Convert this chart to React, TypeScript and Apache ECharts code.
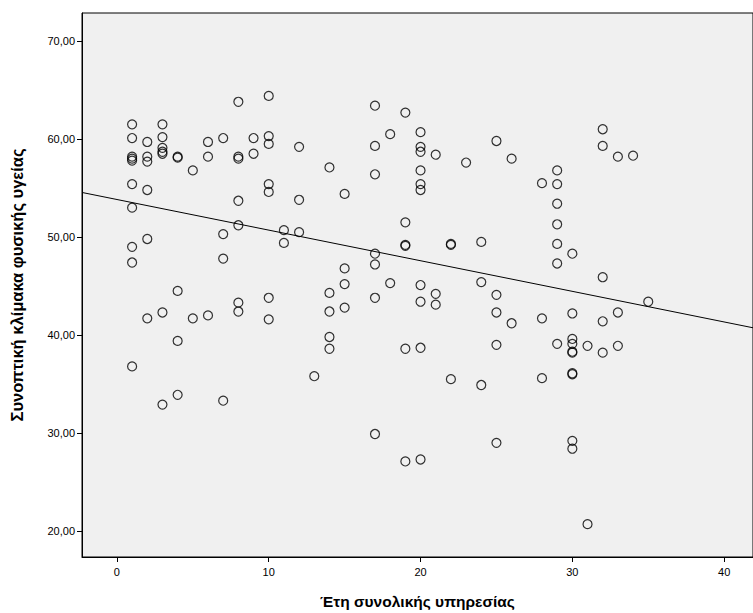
import React, { useEffect, useRef } from "react";
import * as echarts from "echarts";

// Years of total service (x) and physical health summary score (y), one entry per respondent
const serviceYears = [
  1, 1, 1, 1, 1, 1, 1, 1, 1, 1,
  2, 2, 2, 2, 2, 2,
  3, 3, 3, 3, 3, 3, 3,
  4, 4, 4, 4, 4,
  5, 5,
  6, 6, 6,
  7, 7, 7, 7,
  8, 8, 8, 8, 8, 8, 8,
  9, 9,
  10, 10, 10, 10, 10, 10, 10,
  11, 11,
  12, 12, 12,
  13,
  14, 14, 14, 14, 14,
  15, 15, 15, 15,
  17, 17, 17, 17, 17, 17, 17,
  18, 18,
  19, 19, 19, 19, 19, 19,
  20, 20, 20, 20, 20, 20, 20, 20, 20, 20,
  21, 21, 21,
  22, 22, 22,
  23,
  24, 24, 24,
  25, 25, 25, 25, 25,
  26, 26,
  28, 28, 28,
  29, 29, 29, 29, 29, 29, 29,
  30, 30, 30, 30, 30, 30, 30, 30, 30, 30,
  31, 31,
  32, 32, 32, 32, 32,
  33, 33, 33,
  34,
  35,
];

const healthScores = [
  61.5, 60.1, 58.2, 58.0, 57.8, 55.4, 53.0, 49.0, 47.4, 36.8,
  59.7, 58.2, 57.7, 54.8, 49.8, 41.7,
  61.5, 60.2, 59.1, 58.7, 58.5, 42.3, 32.9,
  58.2, 58.1, 44.5, 39.4, 33.9,
  56.8, 41.7,
  59.7, 58.2, 42.0,
  60.1, 50.3, 47.8, 33.3,
  63.8, 58.2, 58.0, 53.7, 51.2, 43.3, 42.4,
  60.1, 58.5,
  64.4, 60.3, 59.5, 55.4, 54.6, 43.8, 41.6,
  50.7, 49.4,
  59.2, 53.8, 50.5,
  35.8,
  57.1, 44.3, 42.4, 39.8, 38.6,
  54.4, 46.8, 45.2, 42.8,
  63.4, 59.3, 56.4, 48.3, 47.2, 43.8, 29.9,
  60.5, 45.3,
  62.7, 51.5, 49.2, 49.1, 38.6, 27.1,
  60.7, 59.2, 58.7, 56.8, 55.4, 54.8, 45.1, 43.4, 38.7, 27.3,
  58.4, 44.2, 43.1,
  49.3, 49.2, 35.5,
  57.6,
  49.5, 45.4, 34.9,
  59.8, 44.1, 42.3, 39.0, 29.0,
  58.0, 41.2,
  55.5, 41.7, 35.6,
  56.8, 55.4, 53.4, 51.3, 49.3, 47.3, 39.1,
  48.3, 42.2, 39.6, 39.1, 38.3, 38.2, 36.1, 36.0, 29.2, 28.4,
  38.9, 20.7,
  61.0, 59.3, 45.9, 41.4, 38.2,
  58.2, 42.3, 38.9,
  58.3,
  43.4,
];

const xTicks = [0, 10, 20, 30, 40];
const yTicks = [20, 30, 40, 50, 60, 70];

// Linear fit line: score = intercept + slope * years
const fitIntercept = 53.83;
const fitSlope = -0.3124;

const X_MIN = -2.3;
const X_MAX = 41.9;
const Y_MIN = 17.35;
const Y_MAX = 72.86;

const FONT = "'Liberation Sans', Arial, sans-serif";

export default function App() {
  const ref = useRef<HTMLDivElement>(null);

  useEffect(() => {
    if (!ref.current) return;
    const chart = echarts.init(ref.current, undefined, { renderer: "svg" });

    const points = serviceYears.map((x, i) => [x, healthScores[i]]);
    const fitLine = [X_MIN, X_MAX].map((x) => [x, fitIntercept + fitSlope * x]);

    chart.setOption({
      animation: false,
      backgroundColor: "#ffffff",
      grid: {
        left: 82,
        top: 13,
        right: 0,
        bottom: 56,
        containLabel: false,
        outerBoundsMode: "none",
        show: true,
        backgroundColor: "#f0f0f0",
        borderColor: "#000000",
        borderWidth: 1,
      },
      xAxis: {
        type: "value",
        min: X_MIN,
        max: X_MAX,
        name: "Έτη συνολικής υπηρεσίας",
        nameLocation: "middle",
        nameGap: 36,
        nameTextStyle: { fontFamily: FONT, fontSize: 15.5, fontWeight: "bold", color: "#000" },
        axisLine: { show: true, onZero: false, lineStyle: { color: "#000", width: 1 } },
        axisTick: { show: true, length: 5, customValues: xTicks, lineStyle: { color: "#000" } },
        axisLabel: {
          customValues: xTicks,
          color: "#000",
          fontFamily: FONT,
          fontSize: 11,
          margin: 9,
        },
        splitLine: { show: false },
      },
      yAxis: {
        type: "value",
        min: Y_MIN,
        max: Y_MAX,
        name: "Συνοπτική κλίμακα φυσικής υγείας",
        nameLocation: "middle",
        nameGap: 57,
        nameTextStyle: { fontFamily: FONT, fontSize: 16.5, fontWeight: "bold", color: "#000" },
        axisLine: { show: true, onZero: false, lineStyle: { color: "#000", width: 1 } },
        axisTick: { show: true, length: 5, customValues: yTicks, lineStyle: { color: "#000" } },
        axisLabel: {
          customValues: yTicks,
          color: "#000",
          fontFamily: FONT,
          fontSize: 11,
          margin: 7,
          formatter: (v: number) => v.toFixed(2).replace(".", ","),
        },
        splitLine: { show: false },
      },
      series: [
        {
          type: "scatter",
          data: points,
          symbol: "circle",
          symbolSize: 9,
          itemStyle: { color: "rgba(0,0,0,0)", borderColor: "#000", borderWidth: 1.2 },
          silent: true,
        },
        {
          type: "line",
          data: fitLine,
          showSymbol: false,
          symbol: "none",
          lineStyle: { color: "#000", width: 1 },
          silent: true,
          z: 3,
        },
      ],
    });

    return () => chart.dispose();
  }, []);

  return (
    <div
      ref={ref}
      style={{ position: "fixed", left: 0, top: 0, width: 753, height: 613 }}
    />
  );
}
